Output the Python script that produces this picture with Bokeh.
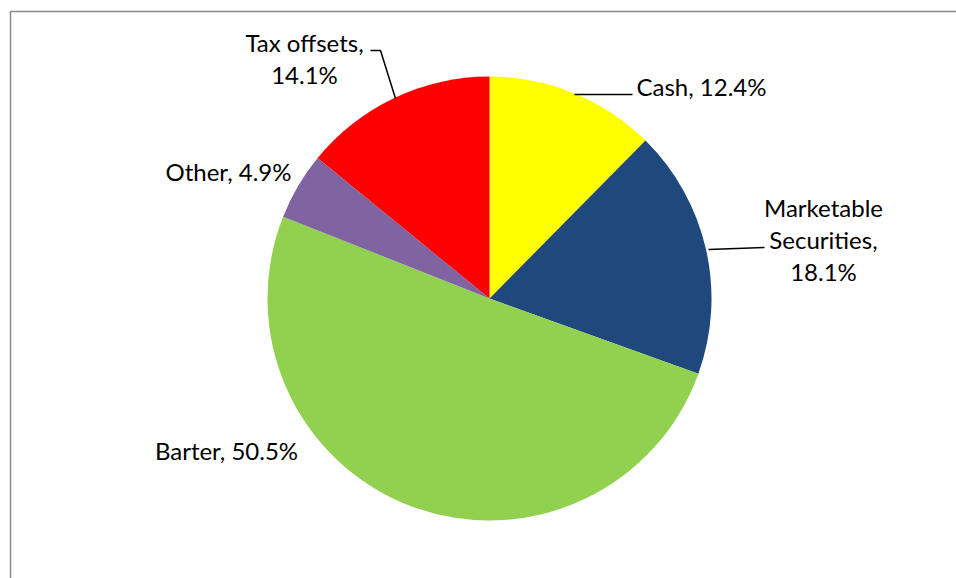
import math
from bokeh.plotting import figure
from bokeh.models import Range1d, ColumnDataSource
from bokeh.core.properties import value
from bokeh.embed import file_html
from bokeh.resources import INLINE

# ---- data ----
categories = ["Cash", "Marketable Securities", "Barter", "Other", "Tax offsets"]
shares = [12.4, 18.1, 50.5, 4.9, 14.1]
colors = ["#FFFF00", "#1F497D", "#92D050", "#8064A2", "#FF0000"]
label_texts = ["Cash, 12.4%", "Marketable\nSecurities,\n18.1%", "Barter, 50.5%",
               "Other, 4.9%", "Tax offsets,\n14.1%"]

# ---- layout (pixel-like data units) ----
W, H = 956, 578
cx, cy, R = 489, 280, 222
label_pos = [(701, 492), (823, 339), (226, 128), (228, 407), (304, 520)]
leaders = [
    ([574, 632], [484, 484]),
    ([708, 764], [329, 331]),
    ([370, 380, 395], [528, 528, 480]),
]

p = figure(width=W, height=H, output_backend="svg", toolbar_location=None,
           x_range=Range1d(0, W), y_range=Range1d(0, H), min_border=0)
p.axis.visible = False
p.grid.visible = False
p.outline_line_color = None
p.background_fill_color = "white"
p.border_fill_color = "white"

# chart border (only left and top visible in the crop)
p.quad(left=[10], right=[W + 20], bottom=[-20], top=[567], fill_color=None,
       line_color="#8a8a8a", line_width=1.5)

total = sum(shares)
starts, ends = [], []
acc = 0.0
for s in shares:
    starts.append(math.pi / 2 - acc / total * 2 * math.pi)
    acc += s
    ends.append(math.pi / 2 - acc / total * 2 * math.pi)

src = ColumnDataSource(dict(cat=categories, start=starts, end=ends, color=colors))
p.wedge(x=cx, y=cy, radius=R, start_angle="start", end_angle="end",
        direction="clock", fill_color="color", line_color=None, source=src)

for xs, ys in leaders:
    p.line(xs, ys, line_color="black", line_width=1.5)

lsrc = ColumnDataSource(dict(x=[q[0] for q in label_pos], y=[q[1] for q in label_pos],
                             t=label_texts))
p.text(x="x", y="y", text="t", source=lsrc, text_font=value("Lato"),
       text_font_size="24px", text_align="center", text_baseline="middle",
       text_color="#000000", text_line_height=1.1)

open("out.html", "w").write(file_html(p, INLINE))
